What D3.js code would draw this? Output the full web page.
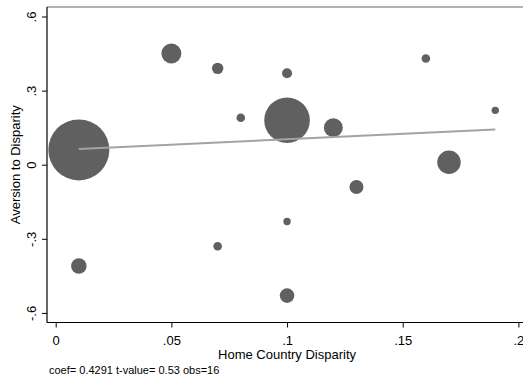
<!DOCTYPE html>
<html>
<head>
<meta charset="utf-8">
<script src="https://cdn.jsdelivr.net/npm/d3@7"></script>
<style>
  html, body { margin: 0; padding: 0; background: #fff; }
  svg { display: block; }
  text { font-family: "Liberation Sans", Arial, sans-serif; }
</style>
</head>
<body>
<svg id="chart" width="523" height="379"></svg>
<script>
// Data
const homeDisparity = [0.01, 0.05, 0.07, 0.08, 0.10, 0.10, 0.12, 0.16, 0.19, 0.17, 0.13, 0.10, 0.07, 0.01, 0.10];
const aversion      = [0.06, 0.45, 0.39, 0.19, 0.37, 0.18, 0.15, 0.43, 0.22, 0.01, -0.09, -0.23, -0.33, -0.41, -0.53];
const weights       = [30.5, 10, 5.7, 4.3, 5, 22.8, 9.5, 4.3, 3.7, 11.7, 7, 3.7, 4.3, 7.8, 7.3]; // bubble radius (px at this size)
const fitX = [0.01, 0.19];
const fitY = [0.0635, 0.1430];
const xTicks = [0, 0.05, 0.10, 0.15, 0.20];
const xTickLabels = ["0", ".05", ".1", ".15", ".2"];
const yTicks = [-0.6, -0.3, 0, 0.3, 0.6];
const yTickLabels = ["-.6", "-.3", "0", ".3", ".6"];
const note = "coef= 0.4291 t-value= 0.53 obs=16";

const svg = d3.select("#chart");
const mLeft = 47, mRight = 540, mTop = 7, mBottom = 322.5;

const x = d3.scaleLinear().domain([0, 0.2]).range([55.7, 518.4]);
const y = d3.scaleLinear().domain([0, 0.3]).range([164.7, 90.6]);

const data = homeDisparity.map((d, i) => ({x: d, y: aversion[i], r: weights[i]}));

// bubbles
svg.append("g").selectAll("circle").data(data).join("circle")
  .attr("cx", d => x(d.x))
  .attr("cy", d => y(d.y))
  .attr("r", d => d.r)
  .attr("fill", "#606060");

// fitted line
const line = d3.line().x(d => x(d[0])).y(d => y(d[1]));
svg.append("path")
  .datum(fitX.map((v, i) => [v, fitY[i]]))
  .attr("d", line)
  .attr("fill", "none")
  .attr("stroke", "#a3a3a3")
  .attr("stroke-width", 2);

// top frame line
svg.append("line")
  .attr("x1", mLeft).attr("x2", mRight)
  .attr("y1", mTop).attr("y2", mTop)
  .attr("stroke", "#666").attr("stroke-width", 1.2);

// x axis
const xAxis = d3.axisBottom(x).tickValues(xTicks)
  .tickFormat((d, i) => xTickLabels[i]).tickSize(5).tickPadding(8);
const gx = svg.append("g").attr("transform", `translate(0,${mBottom})`).call(xAxis);
gx.select(".domain").remove();
gx.append("line").attr("x1", mLeft).attr("x2", mRight).attr("y1", 0).attr("y2", 0)
  .attr("stroke", "#000").attr("stroke-width", 1.2);
gx.selectAll(".tick line").attr("stroke", "#000");
gx.selectAll(".tick text").attr("font-size", 13).attr("fill", "#000")
  .attr("font-family", "Liberation Sans, Arial, sans-serif");

// y axis
const yAxis = d3.axisLeft(y).tickValues(yTicks)
  .tickFormat((d, i) => yTickLabels[i]).tickSize(5).tickPadding(6);
const gy = svg.append("g").attr("transform", `translate(${mLeft},0)`).call(yAxis);
gy.select(".domain").remove();
gy.append("line").attr("x1", 0).attr("x2", 0).attr("y1", mTop).attr("y2", mBottom)
  .attr("stroke", "#000").attr("stroke-width", 1.2);
gy.selectAll(".tick line").attr("stroke", "#000");
gy.selectAll(".tick text")
  .attr("font-size", 13).attr("fill", "#000")
  .attr("font-family", "Liberation Sans, Arial, sans-serif")
  .attr("text-anchor", "middle")
  .attr("x", null)
  .attr("transform", "translate(-16,0) rotate(-90)")
  .attr("dy", "0.35em");

// axis titles
svg.append("text")
  .attr("x", x(0.1)).attr("y", 358.5)
  .attr("text-anchor", "middle")
  .attr("font-size", 13)
  .text("Home Country Disparity");

svg.append("text")
  .attr("transform", `translate(20,${y(0)}) rotate(-90)`)
  .attr("text-anchor", "middle")
  .attr("font-size", 13)
  .text("Aversion to Disparity");

// note
svg.append("text")
  .attr("x", 49).attr("y", 374)
  .attr("font-size", 11)
  .text(note);
</script>
</body>
</html>
